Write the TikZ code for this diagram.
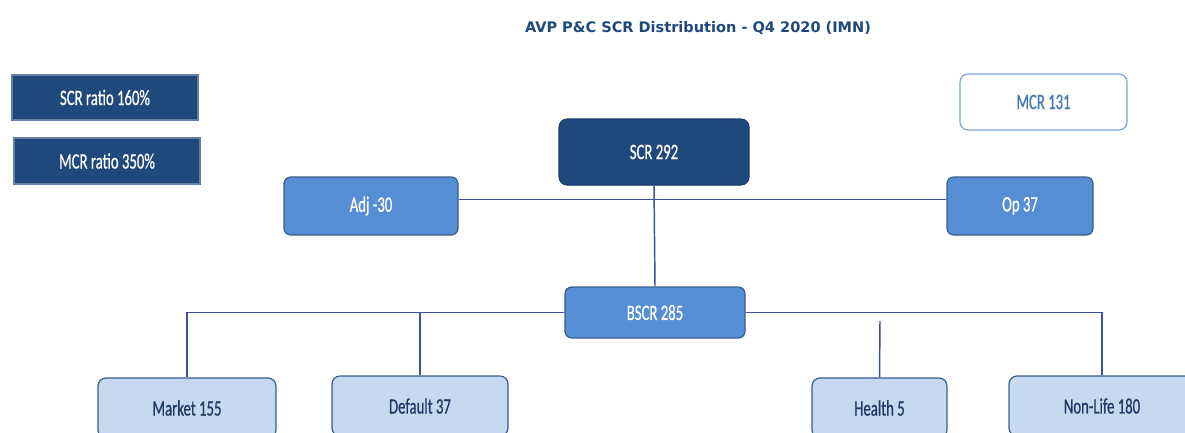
\documentclass[tikz,border=0pt]{standalone}
\usepackage{fontspec}
\setmainfont{Carlito}[FakeStretch=0.67,FakeBold=0.6]
\newfontfamily\titlefont{DejaVu Sans}
\usepackage{tikz}
\definecolor{navy}{HTML}{1F497D}
\definecolor{midblue}{HTML}{558ED5}
\definecolor{midedge}{HTML}{385D8A}
\definecolor{paleblue}{HTML}{C6D9F1}
\definecolor{linkblue}{HTML}{3C4FA0}
\definecolor{deeptext}{HTML}{1F3864}

\begin{document}
\begin{tikzpicture}[x=0.75pt,y=-0.75pt,font=\fontsize{16.5}{18}\selectfont,
  ratio/.style={fill=navy,draw=navy!70!white,line width=0.8pt,text=white},
  darkbox/.style={fill=navy,draw=navy!80!black,rounded corners=6pt,text=white,line width=0.8pt},
  midbox/.style={fill=midblue,draw=midedge,rounded corners=5pt,text=white,line width=0.9pt},
  lightbox/.style={fill=paleblue,draw=midedge,rounded corners=6pt,text=deeptext,line width=0.9pt},
  link/.style={draw=linkblue,line width=1.1pt}] % 画布按像素坐标
				\useasboundingbox (0,0) rectangle (1185,432);\clip (0,0) rectangle (1185,432);
				\node(T) at (698,28) {\titlefont\bfseries\fontsize{10.9}{12}\selectfont\color{navy}AVP P\&C SCR Distribution - Q4 2020 (IMN)};
				\node[ratio,minimum width=139.5pt,minimum height=33.75pt](R1) at (105,97.5) {SCR ratio 160\%};
				\node[ratio,minimum width=139.5pt,minimum height=34.5pt](R2) at (107,161) {MCR ratio 350\%};
				\node[darkbox,minimum width=142.5pt,minimum height=49.5pt](SCR) at (654,152) {SCR 292};
				\node[draw=midblue!80,fill=white,rounded corners=6pt,line width=0.9pt,text=midblue!85!black,minimum width=125.25pt,minimum height=42pt](MCR) at (1043.5,102) {MCR 131};
				\node[midbox,minimum width=130.5pt,minimum height=43.5pt](ADJ) at (371,206) {Adj -30};
				\node[midbox,minimum width=109.5pt,minimum height=43.5pt](OP) at (1020,206) {Op 37};
				\node[midbox,minimum width=135pt,minimum height=38.25pt](BSCR) at (655,312.5) {BSCR 285};
				\node[lightbox,minimum width=133.5pt,minimum height=45pt](MKT) at (187,408) {Market 155};
				\node[lightbox,minimum width=132pt,minimum height=45pt](DEF) at (420,406) {Default 37};
				\node[lightbox,minimum width=101.25pt,minimum height=45pt](HLT) at (879.5,408) {Health 5};
				\node[lightbox,minimum width=139.5pt,minimum height=45pt](NL) at (1102,406) {Non-Life 180};
				\coordinate(HG) at (880,321);
				\draw[link] ([yshift=5pt]ADJ.east) -- ([yshift=5pt]OP.west);
				\draw[link] (SCR.south) -- (BSCR.north);
				\draw[link] (BSCR.west) -- (MKT.north |- BSCR.west) -- (MKT.north);
				\draw[link] (DEF.north |- BSCR.west) -- (DEF.north);
				\draw[link] (BSCR.east) -- (NL.north |- BSCR.east) -- (NL.north);
				\draw[link] (HG) -- (HLT.north);
			\end{tikzpicture}
\end{document}
